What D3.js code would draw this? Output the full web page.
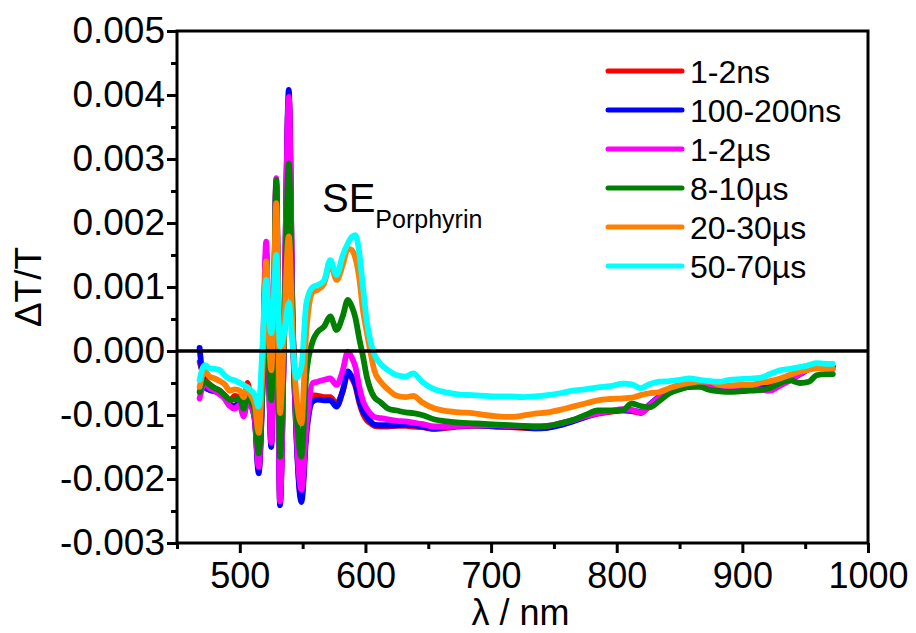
<!DOCTYPE html>
<html>
<head>
<meta charset="utf-8">
<script src="https://cdn.jsdelivr.net/npm/d3@7"></script>
<style>
  html, body { margin: 0; padding: 0; background: #fff; }
  svg { display: block; font-family: "Liberation Sans", Arial, sans-serif; }
</style>
</head>
<body>
<svg id="chart" width="916" height="633"></svg>
<script>
// ---------------- DATA (ΔT/T values in units of 1e-3) ----------------
const UNIT = 1e-3;
const wavelengths = [468, 472, 476, 480, 484, 488, 492, 496, 500, 503, 506, 509, 512,
  515, 518, 521, 523, 525, 527, 529, 532, 535, 539, 542, 545, 549,
  553, 558, 562, 567, 572, 577, 582, 586, 589, 592, 595, 598, 601, 604, 607,
  612, 618, 625, 632, 638, 645, 655, 665, 675, 685, 695, 705, 715, 725, 735, 745, 755, 765, 775, 785,
  795, 805, 812, 819, 826, 834, 842, 850, 858, 866, 874, 882, 890, 898, 906, 914, 922, 930, 938, 946, 953, 959, 966, 972];

const s_1_2ns = [-0.17, -0.43, -0.52, -0.58, -0.62, -0.70, -0.78, -0.70, -0.76, -0.92, -0.50, -0.80, -1.05,
  -1.85, -0.60, 1.50, -0.20, -1.45, 0.30, 2.60, -2.35, 0.00, 3.95, 0.45, -1.30, -2.30,
  -1.20, -0.69, -0.70, -0.72, -0.72, -0.82, -0.62, -0.35, -0.42, -0.55, -0.80, -0.98, -1.08, -1.13, -1.17,
  -1.18, -1.18, -1.17, -1.17, -1.18, -1.19, -1.22, -1.20, -1.18, -1.17, -1.17, -1.18, -1.19, -1.20, -1.21, -1.19, -1.14, -1.09, -1.03, -0.98,
  -0.95, -0.93, -0.94, -0.97, -0.86, -0.72, -0.63, -0.58, -0.55, -0.53, -0.52, -0.53, -0.55, -0.55, -0.54, -0.57, -0.56, -0.50, -0.44, -0.35, -0.27, -0.21, -0.23, -0.25];

const s_100_200ns = [0.05, -0.56, -0.61, -0.63, -0.66, -0.74, -0.85, -0.86, -0.80, -1.00, -0.78, -0.85, -1.10,
  -1.91, -0.60, 1.55, -0.20, -1.50, 0.30, 2.62, -2.41, 0.00, 4.08, 0.50, -1.30, -2.36,
  -1.30, -0.79, -0.76, -0.77, -0.77, -0.87, -0.62, -0.32, -0.40, -0.52, -0.76, -0.94, -1.03, -1.10, -1.15,
  -1.16, -1.16, -1.16, -1.15, -1.16, -1.18, -1.21, -1.19, -1.17, -1.16, -1.17, -1.18, -1.18, -1.19, -1.21, -1.20, -1.16, -1.10, -1.03, -0.97,
  -0.94, -0.92, -0.93, -0.95, -0.84, -0.71, -0.64, -0.58, -0.56, -0.54, -0.53, -0.55, -0.56, -0.56, -0.57, -0.58, -0.58, -0.52, -0.45, -0.36, -0.28, -0.22, -0.24, -0.25];

const s_1_2us = [-0.74, -0.50, -0.58, -0.62, -0.68, -0.74, -0.86, -0.90, -0.84, -1.02, -0.80, -0.86, -1.08,
  -1.81, -0.40, 1.71, -0.10, -1.43, 0.40, 2.70, -2.35, 0.00, 3.97, 0.55, -1.20, -2.17,
  -1.18, -0.50, -0.48, -0.45, -0.43, -0.53, -0.30, -0.01, -0.10, -0.25, -0.55, -0.78, -0.90, -0.98, -1.03,
  -1.05, -1.07, -1.09, -1.10, -1.12, -1.14, -1.18, -1.18, -1.17, -1.16, -1.16, -1.16, -1.17, -1.17, -1.18, -1.17, -1.13, -1.08, -1.02, -0.97,
  -0.94, -0.91, -0.92, -0.96, -0.85, -0.72, -0.64, -0.58, -0.55, -0.54, -0.53, -0.54, -0.56, -0.56, -0.56, -0.60, -0.62, -0.54, -0.46, -0.36, -0.28, -0.22, -0.26, -0.28];

const s_8_10us = [-0.64, -0.48, -0.53, -0.58, -0.62, -0.69, -0.76, -0.76, -0.74, -0.90, -0.71, -0.80, -0.95,
  -1.60, -0.60, 1.10, -0.10, -0.77, 0.60, 2.67, -1.65, 0.00, 2.93, 0.40, -0.90, -1.65,
  -0.35, 0.15, 0.30, 0.38, 0.54, 0.33, 0.55, 0.80, 0.70, 0.52, 0.20, -0.08, -0.40, -0.60, -0.72,
  -0.80, -0.90, -0.93, -0.96, -0.97, -1.00, -1.07, -1.10, -1.12, -1.13, -1.14, -1.15, -1.16, -1.17, -1.18, -1.17, -1.13, -1.08, -1.00, -0.93,
  -0.93, -0.92, -0.82, -0.86, -0.88, -0.78, -0.66, -0.60, -0.56, -0.56, -0.61, -0.63, -0.64, -0.63, -0.62, -0.61, -0.58, -0.50, -0.46, -0.50, -0.48, -0.38, -0.36, -0.36];

const s_20_30us = [-0.56, -0.32, -0.40, -0.43, -0.47, -0.52, -0.62, -0.60, -0.62, -0.72, -0.56, -0.70, -0.84,
  -1.28, -0.30, 1.40, 0.30, -0.30, 0.80, 2.31, -0.97, 0.20, 1.79, 0.30, -0.70, -1.13,
  0.33, 0.92, 0.96, 1.05, 1.37, 1.11, 1.35, 1.60, 1.58, 1.45, 1.15, 0.64, 0.30, -0.02, -0.30,
  -0.48, -0.60, -0.70, -0.72, -0.70, -0.80, -0.90, -0.94, -0.96, -0.97, -1.00, -1.02, -1.03, -1.01, -0.98, -0.96, -0.92, -0.87, -0.82, -0.77,
  -0.75, -0.74, -0.73, -0.69, -0.66, -0.64, -0.58, -0.53, -0.50, -0.48, -0.48, -0.53, -0.54, -0.53, -0.53, -0.50, -0.47, -0.43, -0.37, -0.32, -0.29, -0.27, -0.27, -0.27];

const s_50_70us = [-0.45, -0.22, -0.27, -0.28, -0.30, -0.38, -0.44, -0.46, -0.50, -0.53, -0.57, -0.62, -0.69,
  -0.87, 0.05, 1.11, 0.60, 0.28, 0.80, 1.50, 0.07, 0.25, 0.75, 0.10, -0.42, -0.25,
  0.75, 1.00, 1.03, 1.10, 1.42, 1.19, 1.50, 1.68, 1.78, 1.81, 1.55, 1.00, 0.48, 0.15, -0.05,
  -0.20, -0.30, -0.38, -0.40, -0.35, -0.48, -0.60, -0.65, -0.68, -0.69, -0.70, -0.71, -0.71, -0.72, -0.71, -0.69, -0.66, -0.62, -0.60, -0.57,
  -0.55, -0.51, -0.52, -0.58, -0.52, -0.48, -0.47, -0.45, -0.43, -0.45, -0.47, -0.48, -0.45, -0.44, -0.43, -0.42, -0.36, -0.30, -0.28, -0.25, -0.22, -0.19, -0.20, -0.20];

const seriesLabels = ["1-2ns", "100-200ns", "1-2µs", "8-10µs", "20-30µs", "50-70µs"];
const seriesColors = ["#ff0000", "#0000ff", "#ff00ff", "#008000", "#ff8000", "#00ffff"];
const seriesValues = [s_1_2ns, s_100_200ns, s_1_2us, s_8_10us, s_20_30us, s_50_70us];

const xMajorTicks = [500, 600, 700, 800, 900, 1000];
const xMinorTicks = [450, 550, 650, 750, 850, 950];
const yMajorTicks = [-0.003, -0.002, -0.001, 0.000, 0.001, 0.002, 0.003, 0.004, 0.005];
const yMinorTicks = [-0.0025, -0.0015, -0.0005, 0.0005, 0.0015, 0.0025, 0.0035, 0.0045];

// ---------------- LAYOUT ----------------
const L = 177, R = 868, T = 31, B = 543;
const svg = d3.select("#chart");
const x = d3.scaleLinear().domain([450, 1000]).range([L, R]);
const y = d3.scaleLinear().domain([-0.003, 0.005]).range([B, T]);

// data lines
const line = d3.line()
  .x(d => x(d[0]))
  .y(d => y(d[1] * UNIT))
  .curve(d3.curveMonotoneX);

const gLines = svg.append("g");
seriesValues.forEach((vals, i) => {
  const pts = wavelengths.map((w, j) => [w, vals[j]]);
  gLines.append("path")
    .attr("d", line(pts))
    .attr("fill", "none")
    .attr("stroke", seriesColors[i])
    .attr("stroke-width", 5.8)
    .attr("stroke-linejoin", "round")
    .attr("stroke-linecap", "round");
});

// zero line
svg.append("line")
  .attr("x1", L).attr("x2", R)
  .attr("y1", y(0)).attr("y2", y(0))
  .attr("stroke", "#000").attr("stroke-width", 3.5);

// axes
const fmt = d => d.toFixed(3).replace("-0.000", "0.000");
const yAxis = svg.append("g").attr("transform", `translate(${L},0)`)
  .call(d3.axisLeft(y).tickValues(yMajorTicks).tickSize(10).tickPadding(2).tickFormat(fmt));
const yAxisMinor = svg.append("g").attr("transform", `translate(${L},0)`)
  .call(d3.axisLeft(y).tickValues(yMinorTicks).tickSize(6).tickFormat(""));
const xAxis = svg.append("g").attr("transform", `translate(0,${B})`)
  .call(d3.axisBottom(x).tickValues(xMajorTicks).tickSize(10).tickPadding(9).tickFormat(d3.format("d")));
const xAxisMinor = svg.append("g").attr("transform", `translate(0,${B})`)
  .call(d3.axisBottom(x).tickValues(xMinorTicks).tickSize(6).tickFormat(""));

[yAxis, yAxisMinor, xAxis, xAxisMinor].forEach(g => {
  g.select(".domain").remove();
  g.selectAll(".tick line").attr("stroke", "#000").attr("stroke-width", 3);
});
yAxis.selectAll(".tick text").attr("font-size", 37).attr("fill", "#000")
  .attr("font-family", "Liberation Sans, Arial, sans-serif");
xAxis.selectAll(".tick text").attr("font-size", 36).attr("fill", "#000")
  .attr("font-family", "Liberation Sans, Arial, sans-serif");

// frame
svg.append("rect")
  .attr("x", L).attr("y", T).attr("width", R - L).attr("height", B - T)
  .attr("fill", "none").attr("stroke", "#000").attr("stroke-width", 3);

// axis titles
svg.append("text")
  .attr("transform", `translate(28,287) rotate(-90)`)
  .attr("text-anchor", "middle").attr("dy", "0.35em")
  .attr("font-size", 37).text("ΔT/T");
svg.append("text")
  .attr("x", (L + R) / 2 - 2).attr("y", 625)
  .attr("text-anchor", "middle")
  .attr("font-size", 36).text("λ / nm");

// annotation
const se = svg.append("text").attr("x", 322).attr("y", 212).attr("font-size", 40);
se.append("tspan").text("SE");
se.append("tspan").attr("font-size", 25).attr("dy", 16).text("Porphyrin");

// legend
const legend = svg.append("g");
seriesLabels.forEach((lab, i) => {
  const ly = 71 + i * 39;
  legend.append("line")
    .attr("x1", 608).attr("x2", 682).attr("y1", ly).attr("y2", ly)
    .attr("stroke", seriesColors[i]).attr("stroke-width", 5).attr("stroke-linecap", "round");
  legend.append("text")
    .attr("x", 690).attr("y", ly).attr("dy", "0.36em")
    .attr("font-size", 32).text(lab);
});
</script>
</body>
</html>
